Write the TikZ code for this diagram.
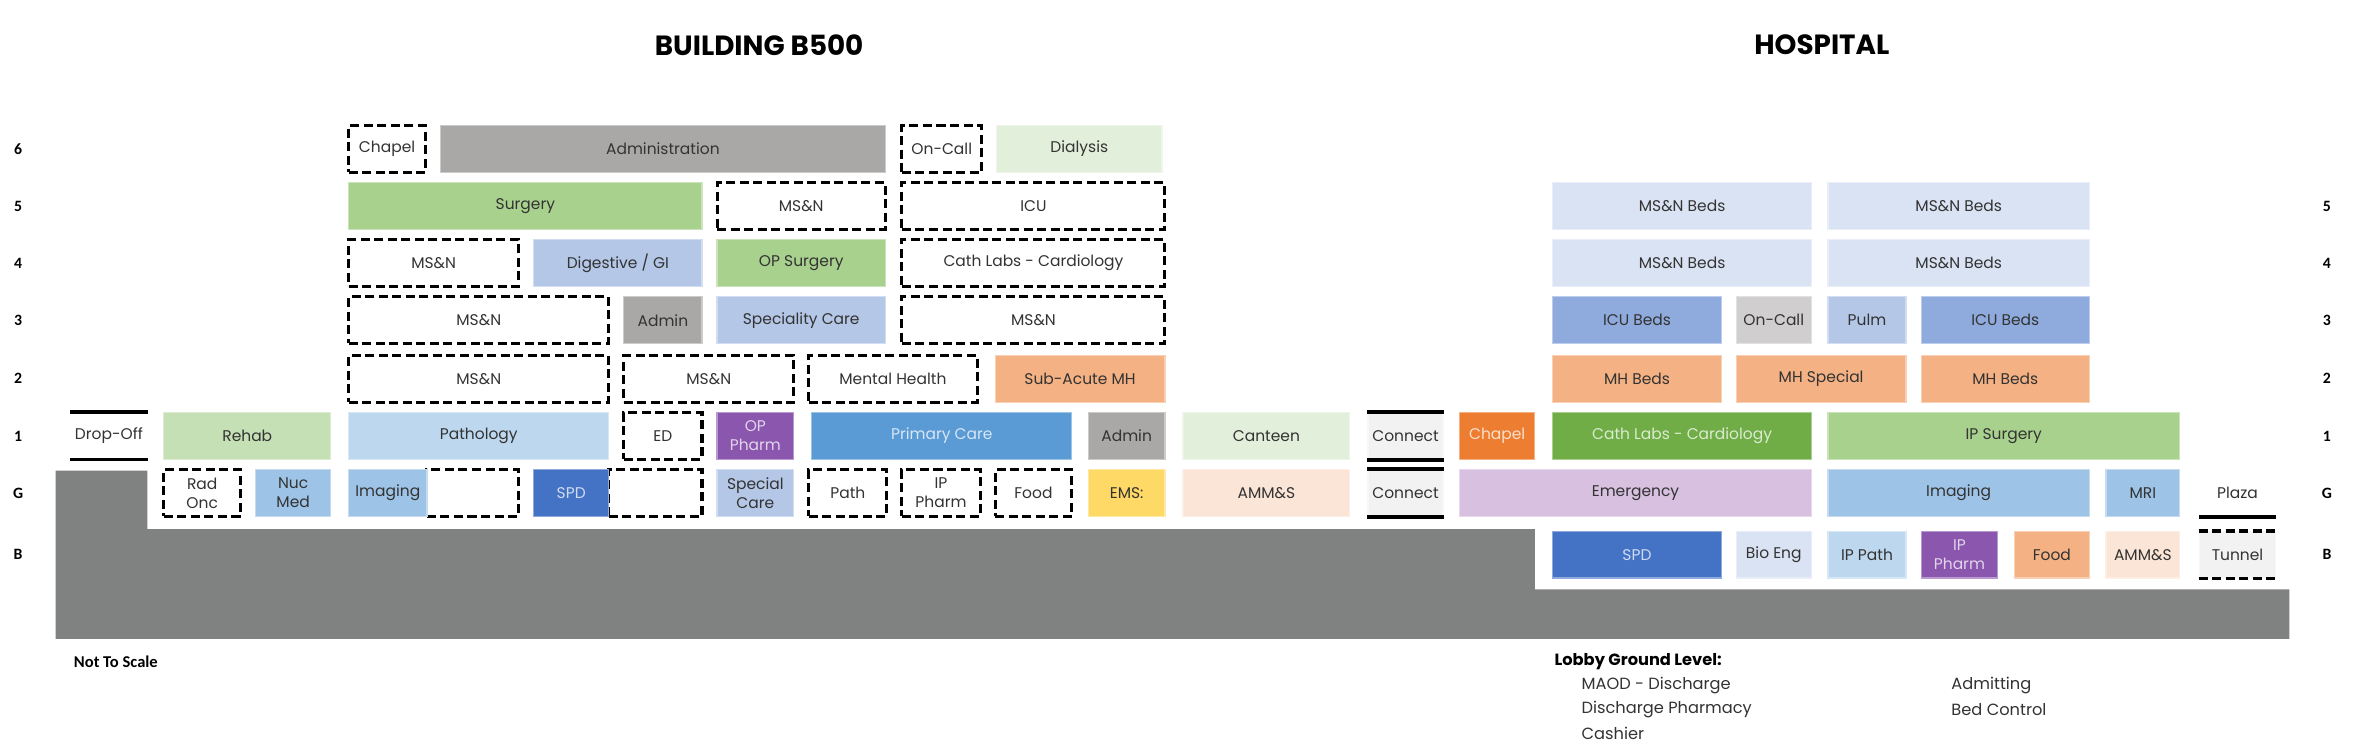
\documentclass[tikz,border=0pt]{standalone}
\usepackage{fontspec}
\setmainfont{Poppins}
\newfontfamily\lblfont{Carlito}
\definecolor{txt}{HTML}{333333}
\definecolor{ground}{HTML}{808281}
\definecolor{cAdmin}{HTML}{AAA8A6}
\definecolor{cLtGreen}{HTML}{E2EFDA}
\definecolor{cGreen}{HTML}{A9D18E}
\definecolor{cBeds}{HTML}{DAE3F3}
\definecolor{cBlue}{HTML}{B4C7E7}
\definecolor{cIcu}{HTML}{8FAADC}
\definecolor{cOnCall}{HTML}{D0CECE}
\definecolor{cOrange}{HTML}{F4B183}
\definecolor{cRehab}{HTML}{C5E0B4}
\definecolor{cPath}{HTML}{BDD7EE}
\definecolor{cPurple}{HTML}{8B56AE}
\definecolor{cPrimary}{HTML}{5B9BD5}
\definecolor{cChapel}{HTML}{ED7D31}
\definecolor{cCath}{HTML}{70AD47}
\definecolor{cImg}{HTML}{9DC3E6}
\definecolor{cSpd}{HTML}{4472C4}
\definecolor{cEms}{HTML}{FFD966}
\definecolor{cPeach}{HTML}{FBE5D6}
\definecolor{cConnect}{HTML}{F2F2F2}
\definecolor{cEmerg}{HTML}{D7C0E0}
\newcommand\roomfont{\fontsize{10.3}{12.5}\selectfont}
\newcommand\room[6]{\node[#5, minimum width={#3-#2}] (#1) at ({(#2+#3)/2},#4) {#6};}
\tikzset{
  base/.style={inner sep=0pt, minimum height=31pt, text=txt, font=\roomfont, align=center},
  room/.style={base, fill=#1, draw=#1!60!white, line width=0.8pt},
  lroom/.style={room=#1, text=#1!25!white},
  droom/.style={base, fill=white, draw=black, line width=2pt, dash pattern=on 6pt off 3pt},
  plain/.style={base},
  wall/.style={line width=2.5pt, draw=black},
  dwall/.style={line width=2.5pt, draw=black, dash pattern=on 6pt off 3pt},
  floorlbl/.style={font=\lblfont\bfseries\fontsize{10.5}{12}\selectfont, text=black},
  title/.style={font=\bfseries\fontsize{18.5}{22}\selectfont, text=black},
  note/.style={font=\fontsize{10.8}{13}\selectfont, text=txt, anchor=west, inner sep=0pt},
}
\begin{document}
\begin{tikzpicture}[x=1pt, y=-1pt]
\useasboundingbox (0,0) rectangle (1568,498);
\fill[white] (0,0) rectangle (1568,498);
% ground
\fill[ground] (37,313) -- (98,313) -- (98,352) -- (1021,352) -- (1021,392) -- (1523,392) -- (1523,425) -- (37,425) -- cycle;
% titles
\node[title] (tB500) at (505,30) {BUILDING B500};
\node[title] (tHosp) at (1212,30) {HOSPITAL};
% floor labels
\foreach \n/\yy in {6/99,5/137,4/175,3/213,2/252,1/290,G/328,B/369} {
  \node[floorlbl] (L\n) at (12,\yy) {\n};
}
\foreach \n/\yy in {5/137,4/175,3/213,2/252,1/290,G/328,B/369} {
  \node[floorlbl] (R\n) at (1548,\yy) {\n};
}
% row 6
\room{chapelB}{232}{283}{99}{droom}{Chapel}
\room{adminBsix}{293}{589}{99}{room=cAdmin}{Administration}
\room{oncallB}{600}{653}{99}{droom}{On-Call}
\room{dialysis}{663}{773}{99}{room=cLtGreen}{Dialysis}
% row 5
\room{surgeryB}{232}{467}{137}{room=cGreen}{Surgery}
\room{msnBfive}{477}{589}{137}{droom}{MS\&N}
\room{icuB}{600}{775}{137}{droom}{ICU}
\room{bedsAfive}{1033}{1205}{137}{room=cBeds}{MS\&N Beds}
\room{bedsBfive}{1216}{1390}{137}{room=cBeds}{MS\&N Beds}
% row 4
\room{msnBfour}{232}{345}{175}{droom}{MS\&N}
\room{digest}{355}{467}{175}{room=cBlue}{Digestive / GI}
\room{opsurg}{477}{589}{175}{room=cGreen}{OP Surgery}
\room{cathB}{600}{775}{175}{droom}{Cath Labs - Cardiology}
\room{bedsAfour}{1033}{1205}{175}{room=cBeds}{MS\&N Beds}
\room{bedsBfour}{1216}{1390}{175}{room=cBeds}{MS\&N Beds}
% row 3
\room{msnBthreeA}{232}{405}{213}{droom}{MS\&N}
\room{adminBthree}{415}{467}{213}{room=cAdmin}{Admin}
\room{specCare}{477}{589}{213}{room=cBlue}{Speciality Care}
\room{msnBthreeB}{600}{775}{213}{droom}{MS\&N}
\room{icuBedsA}{1033}{1145}{213}{room=cIcu}{ICU Beds}
\room{oncallH}{1155}{1205}{213}{room=cOnCall}{On-Call}
\room{pulm}{1216}{1268}{213}{room=cBlue}{Pulm}
\room{icuBedsB}{1278}{1390}{213}{room=cIcu}{ICU Beds}
% row 2
\room{msnBtwoA}{232}{405}{252}{droom}{MS\&N}
\room{msnBtwoB}{415}{528}{252}{droom}{MS\&N}
\room{mentalH}{538}{650}{252}{droom}{Mental Health}
\room{subAcute}{662}{775}{252}{room=cOrange}{Sub-Acute MH}
\room{mhBedsA}{1033}{1145}{252}{room=cOrange}{MH Beds}
\room{mhSpecial}{1155}{1268}{252}{room=cOrange}{MH Special}
\room{mhBedsB}{1278}{1390}{252}{room=cOrange}{MH Beds}
% row 1
\room{dropoff}{47}{98}{290}{plain}{Drop-Off}
\room{rehab}{109}{220}{290}{room=cRehab}{Rehab}
\room{pathology}{232}{405}{290}{room=cPath}{Pathology}
\room{ed}{415}{467}{290}{droom}{ED}
\room{opPharm}{477}{528}{290}{lroom=cPurple}{OP\\Pharm}
\room{primary}{540}{713}{290}{lroom=cPrimary}{Primary Care}
\room{adminBone}{724}{775}{290}{room=cAdmin}{Admin}
\room{canteen}{787}{898}{290}{room=cLtGreen}{Canteen}
\room{connectOne}{910}{960}{290}{room=cConnect}{Connect}
\room{chapelH}{971}{1021}{290}{lroom=cChapel}{Chapel}
\room{cathH}{1033}{1205}{290}{lroom=cCath}{Cath Labs - Cardiology}
\room{ipSurg}{1216}{1450}{290}{room=cGreen}{IP Surgery}
% row G
\room{radOnc}{109}{160}{328}{droom}{Rad\\Onc}
\room{nucMed}{170}{220}{328}{room=cImg}{Nuc\\Med}
\room{emptyA}{284}{345}{328}{droom}{}
\room{imagingB}{232}{284}{328}{room=cImg}{Imaging}
\room{emptyB}{405}{467}{328}{droom}{}
\room{spdB}{355}{405}{328}{lroom=cSpd}{SPD}
\room{specialCare}{477}{528}{328}{room=cBlue}{Special\\Care}
\room{pathG}{538}{590}{328}{droom}{Path}
\room{ipPharmB}{600}{652}{328}{droom}{IP\\Pharm}
\room{foodB}{662}{713}{328}{droom}{Food}
\room{ems}{724}{775}{328}{room=cEms}{EMS:}
\room{ammsB}{787}{898}{328}{room=cPeach}{AMM\&S}
\room{connectG}{910}{960}{328}{room=cConnect}{Connect}
\room{emergency}{971}{1205}{328}{room=cEmerg}{Emergency}
\room{imagingH}{1216}{1390}{328}{room=cImg}{Imaging}
\room{mri}{1401}{1450}{328}{room=cImg}{MRI}
\room{plaza}{1463}{1514}{328}{plain}{Plaza}
% row B
\room{spdH}{1033}{1145}{369}{lroom=cSpd}{SPD}
\room{bioEng}{1155}{1205}{369}{room=cBeds}{Bio Eng}
\room{ipPath}{1216}{1268}{369}{room=cPath}{IP Path}
\room{ipPharmH}{1278}{1329}{369}{lroom=cPurple}{IP\\Pharm}
\room{foodH}{1340}{1390}{369}{room=cOrange}{Food}
\room{ammsH}{1401}{1450}{369}{room=cPeach}{AMM\&S}
\room{tunnel}{1463}{1514}{369}{room=cConnect}{Tunnel}
% walls
\draw[wall] (dropoff.north west) -- (dropoff.north east);
\draw[wall] (dropoff.south west) -- (dropoff.south east);
\draw[wall] (connectOne.north west) -- (connectOne.north east);
\draw[wall] (connectOne.south west) -- (connectOne.south east);
\draw[wall] (connectG.north west) -- (connectG.north east);
\draw[wall] (connectG.south west) -- (connectG.south east);
\draw[wall] (plaza.south west) -- (plaza.south east);
\draw[dwall] (tunnel.north west) -- (tunnel.north east);
\draw[dwall] (tunnel.south west) -- (tunnel.south east);
% notes
\node[anchor=west, inner sep=0pt, font=\lblfont\bfseries\fontsize{11}{13}\selectfont] (nts) at (49,440) {Not To Scale};
\node[note, font=\bfseries\fontsize{10.8}{13}\selectfont, text=black] (lobby) at (1034,440) {Lobby Ground Level:};
\node[note] (maod) at (1052,456) {MAOD - Discharge};
\node[note] (dpharm) at (1052,472) {Discharge Pharmacy};
\node[note] (cashier) at (1052,488) {Cashier};
\node[note] (admit) at (1298,456) {Admitting};
\node[note] (bedctl) at (1298,472) {Bed Control};
\end{tikzpicture}
\end{document}
